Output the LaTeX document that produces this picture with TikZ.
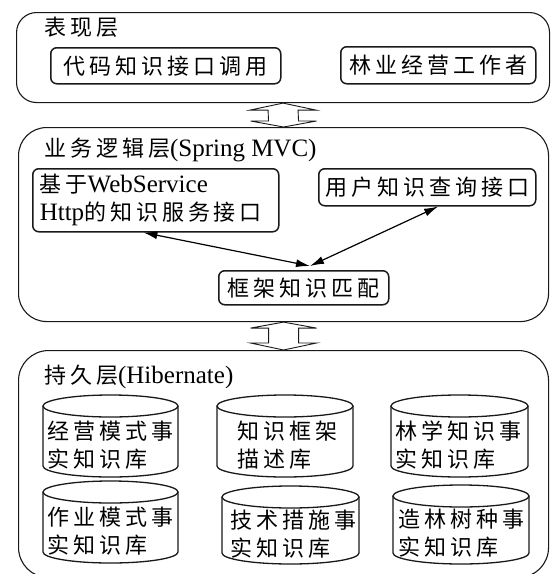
\documentclass[tikz,border=0pt]{standalone}
\usepackage{fontspec}
\setmainfont{Liberation Serif}
\newfontfamily\cjk[LetterSpace=18]{Noto Sans CJK SC}
\usetikzlibrary{arrows.meta,calc}
\newcommand\zh[1]{{\cjk\fontsize{22}{28}\selectfont #1}}
\newcommand\dbcyl[8]{%
  \pgfmathsetmacro\cylrx{(#4-#2)/2}%
  \pgfmathsetmacro\cylcx{(#4+#2)/2}%
  \draw[cylline] (#2,#3+11) -- (#2,#5-11) arc[start angle=180,end angle=0,x radius=\cylrx,y radius=11] -- (#4,#3+11);
  \draw[cylline] (\cylcx,#3+11) ellipse[x radius=\cylrx,y radius=11];
  \node[cyltext] (#1) at (#2+#6,{(#3+#5)/2+9}) {#7\\#8};
}
\begin{document}
\begin{tikzpicture}[x=1pt,y=-1pt,
  layerbox/.style={draw=black!90, line width=1.1pt, rounded corners=#1, inner sep=0pt, anchor=north west},
  layerbox/.default=20pt,
  ttl/.style={anchor=west, inner sep=0pt, font=\fontsize{25}{28}\selectfont},
  box/.style={draw=black!90, line width=1.5pt, rounded corners=6pt, anchor=north west, inner sep=0pt, font=\cjk\fontsize{22}{28}\selectfont},
  harrow/.style={draw=black!90, line width=0.9pt, fill=white, line join=miter},
  linkarrow/.style={{Latex[length=14pt,width=8pt]}-{Latex[length=14pt,width=8pt]}, line width=1.2pt},
  cylline/.style={draw=black!90, line width=1.3pt},
  cyltext/.style={anchor=west, align=left, inner sep=0pt, font=\cjk\fontsize{22}{28}\selectfont}
]
\useasboundingbox (0,0) rectangle (550,574);
\clip (0,0) rectangle (550,574);

% layers
\node[layerbox=20pt, minimum width=533pt, minimum height=90pt] (L1) at (16,12) {};
\node[layerbox=28pt, minimum width=530pt, minimum height=194pt] (L2) at (18,127) {};
\node[layerbox=30pt, minimum width=530pt, minimum height=227pt] (L3) at (18,350) {};

% titles
\node[ttl] (t1) at (44,27) {\zh{表现层}};
\node[ttl] (t2) at (44,150) {\zh{业务逻辑层}(Spring MVC)};
\node[ttl] (t3) at (44,377) {\zh{持久层}(Hibernate)};

% presentation layer boxes
\node[box, minimum width=230pt, minimum height=36pt] (dm) at (50,47) {代码知识接口调用};
\node[box, minimum width=195pt, minimum height=37pt] (ly) at (340,46) {林业经营工作者};

% business layer boxes
\node[box, minimum height=63pt, inner xsep=7pt, text width=232pt, align=left, font=\fontsize{25}{28}\selectfont] (ws) at (32,168) {\zh{基于}WebService\\Http\zh{的知识服务接口}};
\node[box, minimum width=217pt, minimum height=37pt] (uq) at (318,168) {用户知识查询接口};
\node[box, minimum width=170pt, minimum height=34pt] (kj) at (218,270) {框架知识匹配};

\coordinate (m) at (310,266);
\draw[linkarrow] ($(ws.south west)!0.45!(ws.south east)$) -- (m);
\draw[linkarrow] ($(uq.south west)!0.55!(uq.south east)$) -- (m);

% hollow double arrows between layers
\draw[harrow] (L1.south) -- ++(33,7) -- ++(-18,0) -- ($(L2.north)+(15,-6)$) -- ++(18,0) -- (L2.north)
  -- ++(-33,-6) -- ++(18,0) -- ($(L1.south)+(-15,7)$) -- ++(-18,0) -- cycle;
\draw[harrow] (L2.south) -- ++(33,6) -- ++(-18,0) -- ($(L3.north)+(15,-7)$) -- ++(18,0) -- (L3.north)
  -- ++(-33,-7) -- ++(18,0) -- ($(L2.south)+(-15,6)$) -- ++(-18,0) -- cycle;

% databases
\dbcyl{c1}{43}{395}{178}{477}{4}{经营模式事}{实知识库}
\dbcyl{c2}{217}{395}{353}{477}{20}{知识框架}{描述库}
\dbcyl{c3}{391}{395}{528}{477}{4}{林学知识事}{实知识库}
\dbcyl{c4}{43}{481}{178}{563}{4}{作业模式事}{实知识库}
\dbcyl{c5}{222}{486}{359}{564}{8}{技术措施事}{实知识库}
\dbcyl{c6}{393}{485}{529}{564}{5}{造林树种事}{实知识库}
\end{tikzpicture}
\end{document}
